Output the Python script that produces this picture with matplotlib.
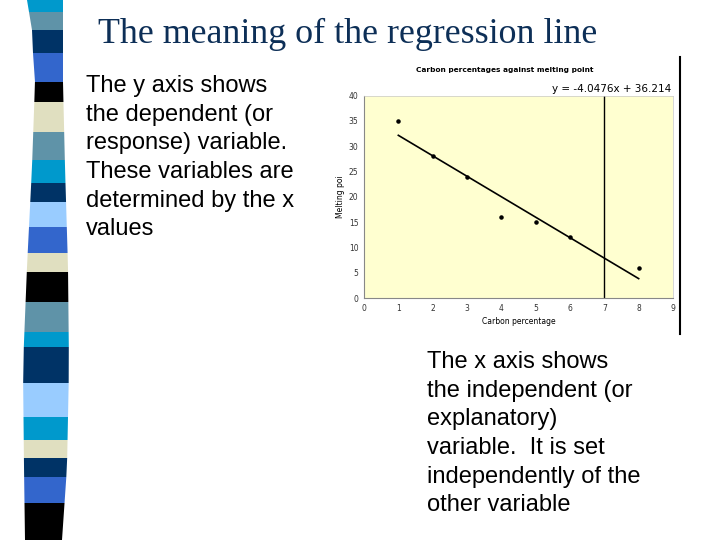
import numpy as np
import matplotlib.pyplot as plt
from matplotlib.patches import Polygon

# data
carbon = [1, 2, 3, 4, 5, 6, 8]
melting = [35, 28, 24, 16, 15, 12, 6]
slope, intercept = -4.0476, 36.214
fit_x = [1, 8]
marker_x = 7

# decorative stripe bands (top, bottom, colour) in slide pixels
band_edges = [0, 12, 30, 53, 82, 102, 132, 160, 183, 202, 227, 253, 272,
              302, 332, 347, 383, 417, 440, 458, 477, 503, 540]
band_cols = ['#0099cc', '#5f93a8', '#003366', '#3366cc', '#000000', '#e0dfc0',
             '#5f93a8', '#0099cc', '#003366', '#99ccff', '#3366cc', '#e0dfc0',
             '#000000', '#5f93a8', '#0099cc', '#003366', '#99ccff', '#0099cc',
             '#e0dfc0', '#003366', '#3366cc', '#000000']

fig = plt.figure(figsize=(7.2, 5.4), dpi=100)

# background layer in pixel coordinates for slide decoration and text
bg = fig.add_axes([0, 0, 1, 1])
bg.set_xlim(0, 720)
bg.set_ylim(540, 0)
bg.axis('off')

ly = [0, 33, 83, 167, 267, 367, 467, 540]
lx = [27, 32, 35, 32, 27, 23, 24, 25]
rx = [63, 63, 63, 65, 68, 69, 67, 62]
for i, c in enumerate(band_cols):
    y0, y1 = band_edges[i], band_edges[i + 1]
    pts = [(np.interp(y0, ly, lx), y0), (np.interp(y0, ly, rx), y0),
           (np.interp(y1, ly, rx), y1), (np.interp(y1, ly, lx), y1)]
    bg.add_patch(Polygon(pts, closed=True, color=c, lw=0))

bg.text(348, 34, 'The meaning of the regression line', family='Liberation Serif',
        fontsize=25.8, color='#0d2f57', ha='center', va='center')
bg.text(86, 75, 'The y axis shows\nthe dependent (or\nresponse) variable.\n'
        'These variables are\ndetermined by the x\nvalues',
        family='Liberation Sans', fontsize=17, va='top', ha='left', linespacing=1.39)
bg.text(427, 351, 'The x axis shows\nthe independent (or\nexplanatory)\n'
        'variable.  It is set\nindependently of the\nother variable',
        family='Liberation Sans', fontsize=17, va='top', ha='left', linespacing=1.39)
bg.plot([680, 680], [57, 334], color='black', lw=1.5)
bg.text(505, 70, 'Carbon percentages against melting point', fontsize=5.3,
        fontweight='bold', ha='center', va='center')

# embedded chart
ax = fig.add_axes([364 / 720, 1 - 298 / 540, 309 / 720, 202.3 / 540])
ax.set_facecolor('#ffffd0')
ax.scatter(carbon, melting, s=5, color='black', zorder=3)
fx = np.array(fit_x)
ax.plot(fx, slope * fx + intercept, color='black', lw=1.2)
ax.axvline(marker_x, color='black', lw=1)
ax.set_xlim(0, 9)
ax.set_ylim(0, 40)
ax.set_xticks(range(0, 10))
ax.set_yticks(range(0, 41, 5))
ax.tick_params(length=0, labelsize=5.5, pad=4, labelcolor='#333333')
for s in ['top', 'right']:
    ax.spines[s].set_color('#c8c8c8')
    ax.spines[s].set_linewidth(0.5)
for s in ['left', 'bottom']:
    ax.spines[s].set_color('#888888')
ax.set_xlabel('Carbon percentage', fontsize=5.5, labelpad=3)
ax.set_ylabel('Melting poi', fontsize=5.5, labelpad=3)
ax.text(0.995, 1.01, 'y = -4.0476x + 36.214', transform=ax.transAxes,
        fontsize=7.5, ha='right', va='bottom')

fig.savefig('out.png', dpi=100)
